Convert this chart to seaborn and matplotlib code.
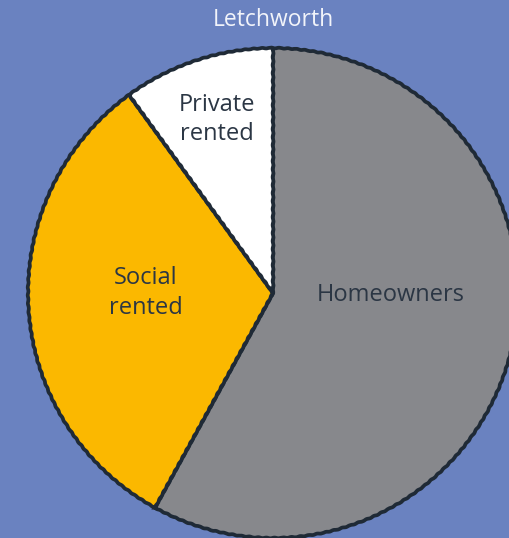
import matplotlib
matplotlib.use("Agg")
import matplotlib.pyplot as plt
import seaborn as sns

# data
categories = ["Homeowners", "Social rented", "Private rented"]
shares = [58, 32, 10]
labels = ["Homeowners", "Social\nrented", "Private\nrented"]
colors = ["#87888c", "#fbb800", "#ffffff"]

BG = "#6a82c0"
INK = "#2b3644"

sns.set_style("white")
plt.rcParams["font.family"] = ["Open Sans", "DejaVu Sans"]

fig = plt.figure(figsize=(5.09, 5.38), dpi=100, facecolor=BG)
ax = fig.add_axes([0, 0, 1, 1])
ax.set_facecolor(BG)

wedges, _ = ax.pie(shares, colors=colors, startangle=90, counterclock=False,
                   radius=1.0,
                   wedgeprops=dict(edgecolor="#1f2a36", linewidth=2.7))
for w in wedges:
    w.set_sketch_params(0.35, 8, 1.0)

# pie centre at (273, 293) px, radius 245 px
r = 245.0
ax.set_xlim(-273 / r, (509 - 273) / r)
ax.set_ylim(-(538 - 293) / r, 293 / r)
ax.set_aspect("equal")
ax.axis("off")

label_pos = {"Homeowners": (0.48, -0.01), "Social\nrented": (-0.52, 0.0),
             "Private\nrented": (-0.23, 0.71)}
for lab in labels:
    x, y = label_pos[lab]
    ax.text(x, y, lab, ha="center", va="center", fontsize=17, color=INK,
            linespacing=1.28)

fig.text(273 / 509, 1 - 20 / 538, "Letchworth", ha="center", va="center",
         fontsize=16.5, color="#f2f4fa")

fig.savefig("out.png", dpi=100, facecolor=BG)
